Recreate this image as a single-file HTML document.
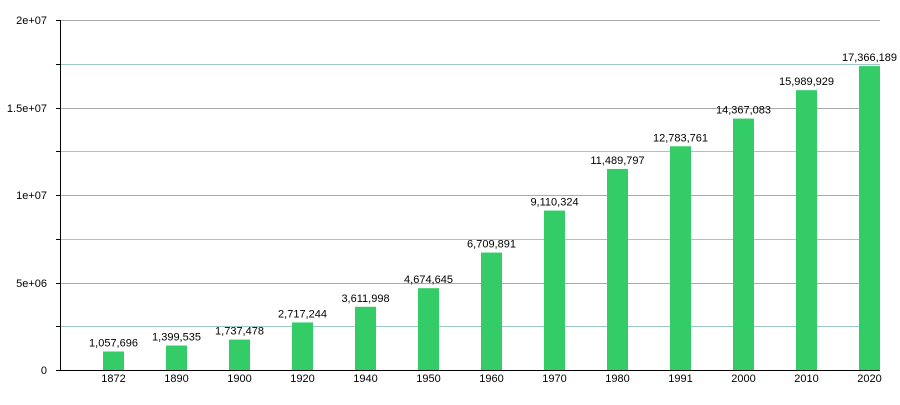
<!DOCTYPE html><html><head><style>body{margin:0;background:#fff}</style></head><body>
<svg width="900" height="400" xmlns="http://www.w3.org/2000/svg" font-family="Liberation Sans, sans-serif" font-size="11" fill="#000">
<g stroke-width="1">
<line x1="60" x2="880" y1="20.5" y2="20.5" stroke="#aaa"/>
<line x1="60" x2="880" y1="64.5" y2="64.5" stroke="#9cc8c8"/>
<line x1="60" x2="880" y1="108.5" y2="108.5" stroke="#aaa"/>
<line x1="60" x2="880" y1="151.5" y2="151.5" stroke="#9cc8c8"/>
<line x1="60" x2="880" y1="195.5" y2="195.5" stroke="#aaa"/>
<line x1="60" x2="880" y1="239.5" y2="239.5" stroke="#9cc8c8"/>
<line x1="60" x2="880" y1="283.5" y2="283.5" stroke="#aaa"/>
<line x1="60" x2="880" y1="326.5" y2="326.5" stroke="#9cc8c8"/>
</g>
<g stroke="#000">
<line x1="60.5" x2="60.5" y1="20" y2="371"/>
<line x1="56" x2="880" y1="370.5" y2="370.5"/>
<line x1="56" x2="60" y1="20.5" y2="20.5"/><line x1="56" x2="60" y1="64.5" y2="64.5"/>
<line x1="56" x2="60" y1="108.5" y2="108.5"/><line x1="56" x2="60" y1="151.5" y2="151.5"/>
<line x1="56" x2="60" y1="195.5" y2="195.5"/><line x1="56" x2="60" y1="239.5" y2="239.5"/>
<line x1="56" x2="60" y1="283.5" y2="283.5"/><line x1="56" x2="60" y1="326.5" y2="326.5"/>
</g>
<g text-anchor="end">
<text x="47" y="24">2e+07</text><text x="47" y="112">1.5e+07</text><text x="47" y="199">1e+07</text><text x="47" y="287">5e+06</text><text x="47" y="374">0</text>
</g>
<g id="bars" fill="#33cc66"></g>
<g id="labels" text-anchor="middle"></g>
<script>
var d=[["1872",1057696],["1890",1399535],["1900",1737478],["1920",2717244],["1940",3611998],["1950",4674645],["1960",6709891],["1970",9110324],["1980",11489797],["1991",12783761],["2000",14367083],["2010",15989929],["2020",17366189]];
var b=document.getElementById('bars'),l=document.getElementById('labels'),ns="http://www.w3.org/2000/svg";
d.forEach(function(e,i){var c=113.5+63*i,h=e[1]/2e7*350,y=370-h;
var r=document.createElementNS(ns,'rect');r.setAttribute('x',c-10.5);r.setAttribute('y',y);r.setAttribute('width',21);r.setAttribute('height',h);b.appendChild(r);
var t=document.createElementNS(ns,'text');t.setAttribute('x',c);t.setAttribute('y',y-5);t.textContent=e[1].toLocaleString('en-US');l.appendChild(t);
var t2=document.createElementNS(ns,'text');t2.setAttribute('x',c);t2.setAttribute('y',382);t2.textContent=e[0];l.appendChild(t2);});
</script>
</svg></body></html>
